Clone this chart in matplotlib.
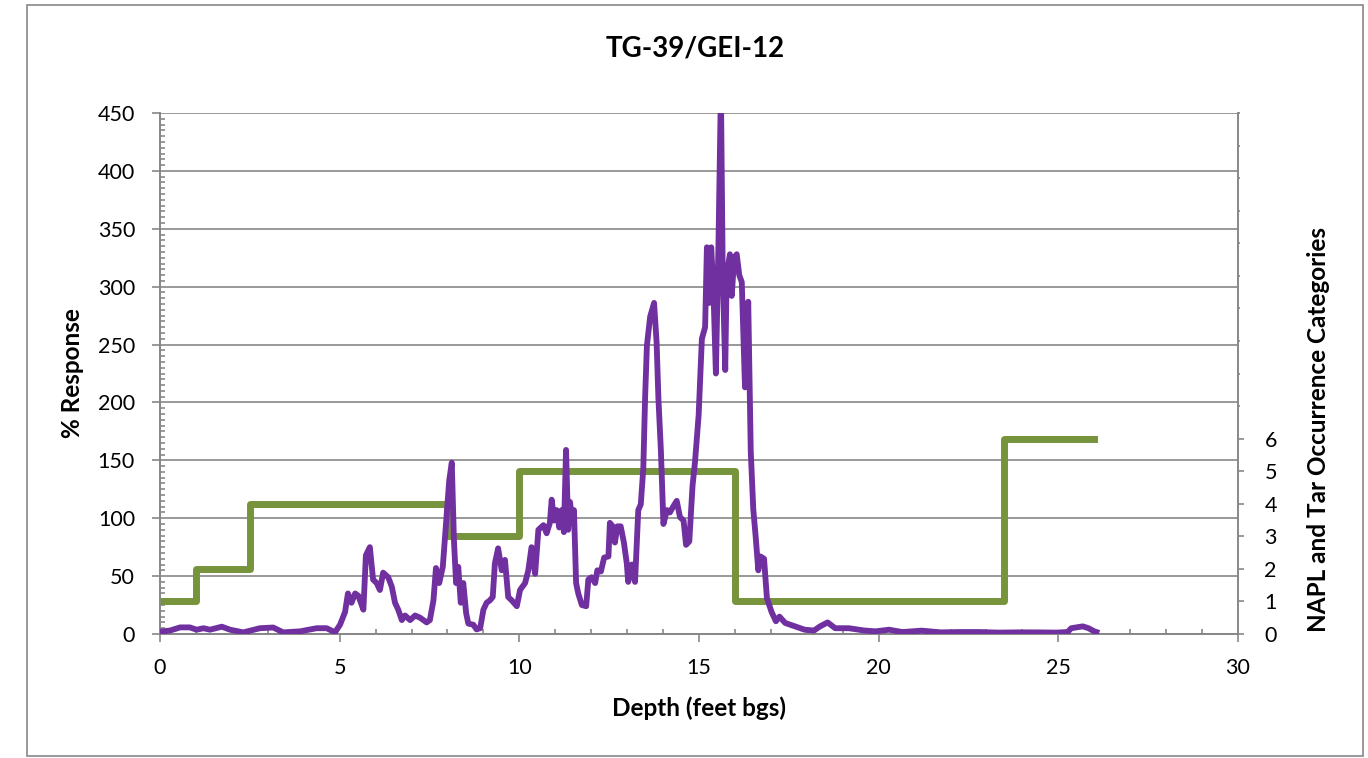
import matplotlib
matplotlib.use("Agg")
import matplotlib.pyplot as plt
from matplotlib.patches import Rectangle
from matplotlib.ticker import MultipleLocator, FixedLocator, FuncFormatter

plt.rcParams['font.family'] = ['Lato', 'DejaVu Sans']

# Data
depth = [0, 0.28, 0.56, 0.83, 1.02, 1.21, 1.39, 1.72, 1.95, 2.32, 2.78, 3.15,
         3.43, 3.9, 4.36, 4.64, 4.87, 5.01, 5.15, 5.23, 5.33, 5.43, 5.52, 5.66,
         5.73, 5.84, 5.93, 6.03, 6.12, 6.21, 6.35, 6.45, 6.54, 6.63, 6.73, 6.82,
         6.96, 7.10, 7.24, 7.42, 7.51, 7.61, 7.68, 7.77, 7.87, 7.96, 8.05, 8.12,
         8.18, 8.24, 8.30, 8.37, 8.44, 8.52, 8.58, 8.72, 8.81, 8.91, 9.00, 9.09,
         9.18, 9.26, 9.32, 9.41, 9.51, 9.60, 9.69, 9.79, 9.93, 10.02, 10.16,
         10.25, 10.34, 10.44, 10.53, 10.67, 10.76, 10.85, 10.90, 10.97, 11.04,
         11.11, 11.18, 11.24, 11.30, 11.36, 11.41, 11.48, 11.52, 11.58, 11.64,
         11.74, 11.86, 11.92, 12.01, 12.11, 12.17, 12.27, 12.36, 12.48, 12.52,
         12.60, 12.66, 12.73, 12.82, 12.91, 12.99, 13.03, 13.13, 13.22, 13.31,
         13.38, 13.45, 13.50, 13.55, 13.64, 13.75, 13.82, 13.87, 13.94, 14.01,
         14.11, 14.19, 14.28, 14.38, 14.47, 14.57, 14.64, 14.73, 14.82, 14.89,
         14.99, 15.08, 15.17, 15.22, 15.29, 15.34, 15.40, 15.47, 15.54, 15.61,
         15.66, 15.73, 15.77, 15.86, 15.91, 15.98, 16.05, 16.12, 16.19, 16.28,
         16.37, 16.44, 16.51, 16.58, 16.65, 16.71, 16.81, 16.89, 17.02, 17.14,
         17.24, 17.40, 17.67, 17.94, 18.2, 18.37, 18.58, 18.79, 19.17, 19.6,
         19.91, 20.29, 20.66, 21.2, 21.73, 22.26, 22.8, 23.33, 23.87, 24.4,
         24.94, 25.26, 25.36, 25.68, 25.84, 26.0, 26.06]
response = [2, 3, 5.7, 5.7, 3.7, 5, 3.7, 6.3, 3.7, 1.4, 5, 5.6,
            1.4, 2.3, 5, 5, 1.4, 8, 19, 35, 27, 35, 33, 21,
            68, 75, 47, 44, 38, 53, 49, 41, 27, 21, 12, 16,
            12, 16, 14, 10, 12, 29, 57, 44, 58, 96, 133, 148,
            81, 44, 58, 27, 44, 18, 9, 8, 4, 5, 21, 27,
            29, 32, 61, 74, 55, 64, 32, 29, 24, 38, 44,
            55, 75, 52, 90, 94, 87, 96, 116, 98, 107,
            92, 107, 88, 159, 90, 114, 96, 107, 44, 35,
            25, 24, 47, 49, 44, 55, 54, 66, 67, 96,
            93, 79, 93, 93, 79, 61, 45, 60, 45, 107,
            112, 143, 204, 249, 274, 286, 252, 204, 158, 95,
            107, 105, 110, 115, 101, 98, 77, 80, 128, 149,
            189, 255, 265, 334, 286, 334, 298, 225, 334, 470,
            313, 228, 310, 328, 292, 325, 328, 310, 304, 213,
            287, 158, 108, 83, 55, 67, 65, 31, 19, 11,
            15, 9.5, 6.6, 3.7, 3, 6.6, 10, 5, 5, 3,
            2.3, 3.7, 1.7, 2.9, 1.4, 1.7, 1.7, 1.2, 1.4, 1.4,
            1.2, 1.7, 5, 6.6, 5, 2.3, 1.7]

napl_depth = [0, 1, 2.5, 8, 10, 16, 23.5, 26]
napl_cat = [1, 2, 4, 3, 5, 1, 6, 6]

title = "TG-39/GEI-12"
grey = "#878787"

fig = plt.figure(figsize=(13.68, 7.58), dpi=100)
ax = fig.add_axes([160/1368, 1 - 634/758, (1238-160)/1368, (634-113)/758])
ax2 = ax.twinx()

# outer chart border
fig.patches.append(Rectangle((27/1368, 2/758), (1363-27)/1368, (753-2)/758,
                             transform=fig.transFigure, fill=False,
                             edgecolor=grey, lw=1.2))

ax.set_xlim(0, 30)
ax.set_ylim(0, 450)
ax2.set_ylim(0, 16)

ax.yaxis.grid(True, color=grey, lw=1.2)
ax.set_axisbelow(True)

ax2.step(napl_depth, napl_cat, where='post', color='#77933C', lw=5, zorder=2)
ax2.plot(depth, response, color='#7030A0', lw=4.2, zorder=3,
         transform=ax.transData, solid_joinstyle='round')

ax.xaxis.set_major_locator(MultipleLocator(5))
ax.xaxis.set_minor_locator(MultipleLocator(1))
ax.yaxis.set_major_locator(MultipleLocator(50))
ax.yaxis.set_minor_locator(MultipleLocator(5))
ax2.yaxis.set_major_locator(FixedLocator(range(0, 7)))
ax2.yaxis.set_minor_locator(FixedLocator(range(7, 17)))
ax2.yaxis.set_major_formatter(FuncFormatter(lambda v, p: "%d" % v))

ax.tick_params(which='major', direction='out', length=6, width=1.2, color=grey,
               labelsize=15.5, pad=12)
ax.tick_params(which='minor', direction='in', length=3.5, width=1.2, color=grey)
ax.tick_params(axis='x', which='major', pad=11)
ax2.tick_params(which='major', direction='out', length=4, width=1.2, color=grey,
                labelsize=15.5, pad=15)
ax2.tick_params(which='minor', direction='out', length=1.5, width=1.2, color=grey)

for a in (ax, ax2):
    for s in a.spines.values():
        s.set_color(grey)
        s.set_linewidth(1.2)
    a.spines['top'].set_visible(False)

ax.set_xlabel("Depth (feet bgs)", fontsize=17.5, fontweight='bold')
ax.set_ylabel("% Response", fontsize=17.5, fontweight='bold')
ax2.set_ylabel("NAPL and Tar Occurrence Categories", fontsize=17.5, fontweight='bold')
ax.xaxis.set_label_coords(0.5, -0.12)
ax.yaxis.set_label_coords(-0.0705, 0.5)
ax2.yaxis.set_label_coords(1.064, 0.392)

fig.text(695/1368, 1 - 49/758, title, ha='center', va='center',
         fontsize=20, fontweight='bold')

fig.savefig("out.png", dpi=100)
